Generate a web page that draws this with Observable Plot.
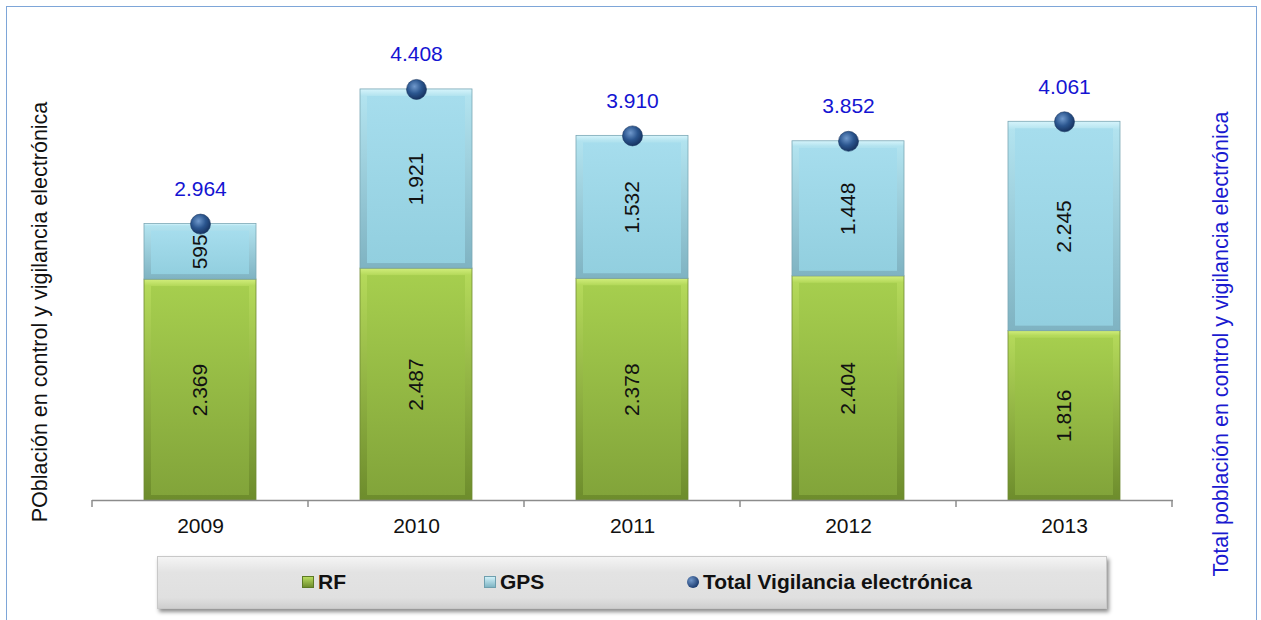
<!DOCTYPE html>
<html>
<head>
<meta charset="utf-8">
<script src="https://cdn.jsdelivr.net/npm/d3@7"></script>
<script src="https://cdn.jsdelivr.net/npm/@observablehq/plot@0.6"></script>
<style>
  html, body { margin: 0; padding: 0; background: #fff; }
  #wrap { position: relative; width: 1261px; height: 620px; overflow: hidden; font-family: "Liberation Sans", Arial, sans-serif; }
  #frame { position: absolute; left: 6px; top: 6px; width: 1251px; height: 640px; border: 1.5px solid #7EA6D8; box-sizing: border-box; }
  #chart { position: absolute; left: 0; top: 0; }
  #legend { position: absolute; left: 157px; top: 556px; width: 950px; height: 53px; box-sizing: border-box;
    background: linear-gradient(#f4f4f4, #e3e3e3 30%, #e0e0e0 80%, #cfcfcf);
    border: 1px solid #c8c8c8; box-shadow: 2px 3px 4px rgba(0,0,0,0.45);
    font-weight: bold; font-size: 21px; color: #111; }
  .item { position: absolute; top: 13px; display: flex; align-items: center; gap: 4px; }
  .sw { width: 10px; height: 10px; display: inline-block; }
  .lt { position: absolute; font-size: 21.5px; white-space: nowrap; transform-origin: center; }
</style>
</head>
<body>
<div id="wrap">
  <div id="frame"></div>
  <div id="chart"></div>
  <div id="legend">
    <div class="item" style="left:144px"><span class="sw" style="background:linear-gradient(#b8dc60,#6f8e2e);border:1px solid #5d7a25"></span><span>RF</span></div>
    <div class="item" style="left:326px"><span class="sw" style="background:linear-gradient(#d0f0f8,#7fb5c4);border:1px solid #6f9fae"></span><span>GPS</span></div>
    <div class="item" style="left:529px"><span class="sw" style="width:12px;height:12px;border-radius:50%;background:radial-gradient(circle at 35% 35%,#6f95c8,#1f3f73 70%)"></span><span>Total Vigilancia electrónica</span></div>
  </div>
  <div class="lt" style="left:40px;top:312px;transform:translate(-50%,-50%) rotate(-90deg);color:#111">POblación en control y vigilancia electrónica</div>
  <div class="lt" style="left:1221px;top:344px;transform:translate(-50%,-50%) rotate(-90deg);color:#1a1ad0">Total población en control y vigilancia electrónica</div>
</div>
<script>
const years = ["2009", "2010", "2011", "2012", "2013"];
const rf    = [2369, 2487, 2378, 2404, 1816];
const gps   = [595, 1921, 1532, 1448, 2245];
const total = [2964, 4408, 3910, 3852, 4061];

const es = d3.formatLocale({decimal: ",", thousands: ".", grouping: [3], currency: ["", "€"]});
const fmt = es.format(",d");

const segs = [];
years.forEach((y, i) => {
  segs.push({year: y, series: "RF", lo: 0, hi: rf[i], v: rf[i]});
  segs.push({year: y, series: "GPS", lo: rf[i], hi: rf[i] + gps[i], v: gps[i]});
});
const tots = years.map((y, i) => ({year: y, total: total[i]}));

const edge = d => d.series === "RF" ? "url(#gEdge)" : "url(#bEdge)";
const face = d => d.series === "RF" ? "url(#gFace)" : "url(#bFace)";

const plot = Plot.plot({
  width: 1261,
  height: 545,
  marginLeft: 92,
  marginRight: 88,
  marginTop: 30,
  marginBottom: 45,
  style: {fontFamily: "Liberation Sans, Arial, sans-serif", fontSize: "21px", color: "#111", background: "transparent"},
  x: {domain: years, paddingInner: 0.48, paddingOuter: 0.24, label: null},
  y: {domain: [0, 5040], axis: null},
  marks: [
    Plot.barY(segs, {x: "year", y1: "lo", y2: "hi", fill: edge, stroke: d => d.series === "RF" ? "#6f8a33" : "#7aa7b5", strokeWidth: 0.8}),
    Plot.barY(segs, {x: "year", y1: "lo", y2: "hi", fill: face, insetLeft: 7, insetRight: 7, insetTop: 7, insetBottom: 5}),
    Plot.ruleY([0], {stroke: "#8c8c8c", strokeWidth: 1.5}),
    Plot.axisX({tickSize: 0, tickPadding: 18, fontSize: 21, fill: "#111"}),
    Plot.text(segs, {x: "year", y: d => (d.lo + d.hi) / 2, text: d => fmt(d.v), rotate: -90, fontSize: 21, fill: "#111"}),
    Plot.dot(tots, {x: "year", y: "total", r: 10, fill: "url(#dotG)", stroke: "#1a3560", strokeWidth: 0.6}),
    Plot.text(tots, {x: "year", y: "total", text: d => fmt(d.total), dy: -35, fontSize: 21, fill: "#1414d2"})
  ]
});

// gradient definitions
const svg = d3.select(plot);
const defs = svg.insert("defs", ":first-child");
function lg(id, stops) {
  const g = defs.append("linearGradient").attr("id", id).attr("x1", 0).attr("y1", 0).attr("x2", 0).attr("y2", 1);
  stops.forEach(([o, c]) => g.append("stop").attr("offset", o).attr("stop-color", c));
}
lg("gEdge", [[0, "#d2ee7c"], [0.03, "#b4d95a"], [1, "#6d8c2c"]]);
lg("gFace", [[0, "#a6ce4e"], [1, "#82a43a"]]);
lg("bEdge", [[0, "#d6f4fb"], [0.04, "#b2e3ef"], [1, "#7fb3c2"]]);
lg("bFace", [[0, "#a6dded"], [1, "#92cfdf"]]);
const rg = defs.append("radialGradient").attr("id", "dotG").attr("cx", 0.4).attr("cy", 0.35).attr("r", 0.65);
rg.append("stop").attr("offset", 0).attr("stop-color", "#7099cc");
rg.append("stop").attr("offset", 0.55).attr("stop-color", "#2b568f");
rg.append("stop").attr("offset", 1).attr("stop-color", "#173462");

// category boundary ticks from the band scale
const xs = plot.scale("x");
const ys = plot.scale("y");
const y0 = ys.apply(0);
const step = xs.step;
const bounds = years.map(y => xs.apply(y) + xs.bandwidth / 2 - step / 2);
bounds.push(xs.apply(years[years.length - 1]) + xs.bandwidth / 2 + step / 2);
const tg = svg.append("g").attr("stroke", "#8c8c8c").attr("stroke-width", 1.5);
bounds.forEach(b => tg.append("line").attr("x1", b).attr("x2", b).attr("y1", y0).attr("y2", y0 + 7));

document.getElementById("chart").appendChild(plot);
</script>
</body>
</html>
